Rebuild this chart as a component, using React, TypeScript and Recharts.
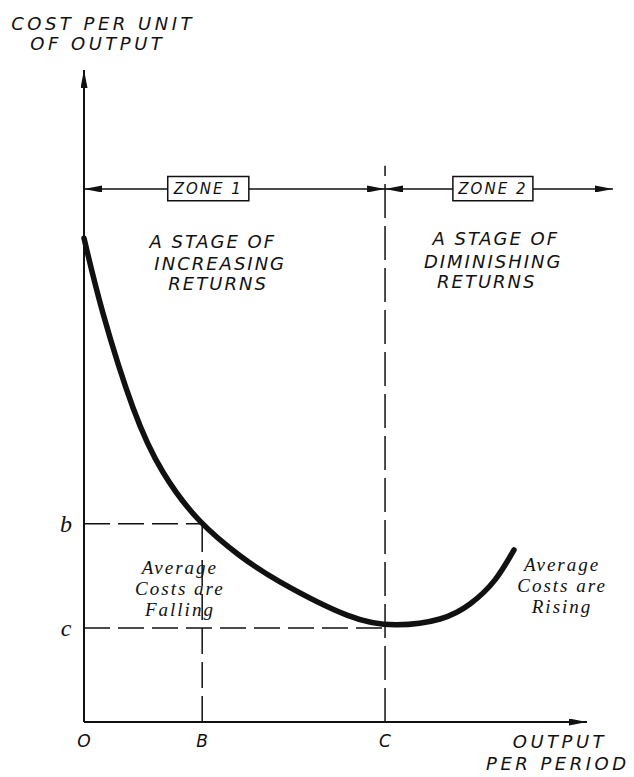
import { LineChart, Line, XAxis, YAxis, ReferenceLine, ReferenceArea, ReferenceDot } from "recharts";

// average cost curve (output 0..100, cost 0..100)
const output = [0, 3.58, 9.25, 14.91, 21.89, 29.43, 36.98, 49.62, 59.06, 67.17, 72.83, 77.55, 81.13];
const averageCost = [74.2, 62.7, 48.2, 38.3, 30.8, 25.5, 21.5, 16.4, 14.9, 15.8, 18.1, 21.8, 26.4];

const costTicks = ["b", "c"];
const costValues = [30.4, 14.4];
const outputTicks = ["O", "B", "C"];
const outputValues = [0, 22.3, 56.8];

const zoneNames = ["ZONE 1", "ZONE 2"];
const zoneEdges = [0, 56.8, 99.8];

const data = output.map((x, i) => ({ x, cost: averageCost[i] }));

const INK = "#111";
const LETTER = "'DejaVu Sans', sans-serif";
const SCRIPT = "'Liberation Serif', serif";

// annotation layout, in chart units
const zoneY = 81.75;
const zoneBoxes = [
  { x1: 15.8, x2: 31.1 },
  { x1: 69.6, x2: 84.7 },
];
const notes = [
  { text: "COST PER UNIT", x: 3.6, y: 106.1, kind: "title" },
  { text: "OF OUTPUT", x: 2.6, y: 103.1, kind: "title" },
  { text: "A STAGE OF", x: 24.3, y: 72.7, kind: "stage" },
  { text: "INCREASING", x: 25.7, y: 69.3, kind: "stage" },
  { text: "RETURNS", x: 25.3, y: 66.2, kind: "stage" },
  { text: "A STAGE OF", x: 77.7, y: 73.1, kind: "stage" },
  { text: "DIMINISHING", x: 77.2, y: 69.7, kind: "stage" },
  { text: "RETURNS", x: 76.0, y: 66.6, kind: "stage" },
  { text: "Average", x: 18.1, y: 22.7, kind: "script" },
  { text: "Costs are", x: 18.1, y: 19.5, kind: "script" },
  { text: "Falling", x: 18.1, y: 16.3, kind: "script" },
  { text: "Average", x: 90.2, y: 23.2, kind: "script" },
  { text: "Costs are", x: 90.2, y: 19.9, kind: "script" },
  { text: "Rising", x: 90.2, y: 16.7, kind: "script" },
  { text: "OUTPUT", x: 89.8, y: -4.0, kind: "title" },
  { text: "PER PERIOD", x: 89.4, y: -7.4, kind: "title" },
];

const styles: Record<string, any> = {
  title: { fontFamily: LETTER, fontStyle: "italic", fontSize: 18, letterSpacing: 3.5 },
  stage: { fontFamily: LETTER, fontStyle: "italic", fontSize: 18, letterSpacing: 2 },
  script: { fontFamily: SCRIPT, fontStyle: "italic", fontSize: 19, letterSpacing: 2 },
  zone: { fontFamily: LETTER, fontStyle: "italic", fontSize: 15, letterSpacing: 2 },
  tick: { fontFamily: LETTER, fontStyle: "italic", fontSize: 17 },
  level: { fontFamily: SCRIPT, fontStyle: "italic", fontSize: 24 },
};

const textShape = (text: string, kind: string, baseline = "auto") => (p: any) => (
  <text x={p.cx} y={p.cy} textAnchor="middle" dominantBaseline={baseline} fill={INK} style={styles[kind]}>
    {text}
  </text>
);

const dash = "26 8";

export default function App() {
  return (
    <div style={{ position: "absolute", left: 0, top: 0, background: "#fff" }}>
      <LineChart width={634} height={777} data={data} margin={{ top: 70, right: 20, bottom: 55, left: 84 }}>
        <defs>
          <marker id="arrow" markerUnits="userSpaceOnUse" markerWidth={18} markerHeight={7} refX={18} refY={3.5} orient="auto-start-reverse">
            <path d="M0,0 L18,3.5 L0,7 z" fill={INK} />
          </marker>
        </defs>
        <XAxis type="number" dataKey="x" domain={[0, 100]} hide />
        <YAxis type="number" domain={[0, 100]} hide />

        {/* axes */}
        <ReferenceLine segment={[{ x: 0, y: 0 }, { x: 0, y: 100 }]} stroke={INK} strokeWidth={2} markerEnd="url(#arrow)" ifOverflow="visible" />
        <ReferenceLine segment={[{ x: 0, y: 0 }, { x: 94.9, y: 0 }]} stroke={INK} strokeWidth={2} markerEnd="url(#arrow)" ifOverflow="visible" />

        {/* dashed guides */}
        <ReferenceLine segment={[{ x: 0, y: costValues[0] }, { x: outputValues[1], y: costValues[0] }]} stroke={INK} strokeWidth={1.5} strokeDasharray={dash} ifOverflow="visible" />
        <ReferenceLine segment={[{ x: outputValues[1], y: 0 }, { x: outputValues[1], y: costValues[0] }]} stroke={INK} strokeWidth={1.5} strokeDasharray={dash} ifOverflow="visible" />
        <ReferenceLine segment={[{ x: 0, y: costValues[1] }, { x: outputValues[2], y: costValues[1] }]} stroke={INK} strokeWidth={1.5} strokeDasharray={dash} ifOverflow="visible" />
        <ReferenceLine segment={[{ x: outputValues[2], y: 0 }, { x: outputValues[2], y: 85.3 }]} stroke={INK} strokeWidth={1.5} strokeDasharray="34 8" ifOverflow="visible" />

        {/* zone arrows */}
        {zoneBoxes.map((b, i) => (
          <ReferenceLine key={`zl${i}`} segment={[{ x: b.x1, y: zoneY }, { x: zoneEdges[i], y: zoneY }]} stroke={INK} strokeWidth={1.5} markerEnd="url(#arrow)" ifOverflow="visible" />
        ))}
        {zoneBoxes.map((b, i) => (
          <ReferenceLine key={`zr${i}`} segment={[{ x: b.x2, y: zoneY }, { x: zoneEdges[i + 1], y: zoneY }]} stroke={INK} strokeWidth={1.5} markerEnd="url(#arrow)" ifOverflow="visible" />
        ))}
        {zoneBoxes.map((b, i) => (
          <ReferenceArea key={`zb${i}`} x1={b.x1} x2={b.x2} y1={zoneY - 1.8} y2={zoneY + 1.9} fill="#fff" fillOpacity={1} stroke={INK} strokeWidth={1.5} ifOverflow="visible" />
        ))}
        {zoneBoxes.map((b, i) => (
          <ReferenceDot key={`zt${i}`} x={(b.x1 + b.x2) / 2} y={zoneY} r={0} ifOverflow="visible" shape={textShape(zoneNames[i], "zone", "central")} />
        ))}

        <Line type="natural" dataKey="cost" stroke={INK} strokeWidth={5.5} dot={false} activeDot={false} isAnimationActive={false} strokeLinecap="round" />

        {costTicks.map((t, i) => (
          <ReferenceDot key={`ct${i}`} x={-3.4} y={costValues[i]} r={0} ifOverflow="visible" shape={textShape(t, "level", "central")} />
        ))}
        {outputTicks.map((t, i) => (
          <ReferenceDot key={`ot${i}`} x={outputValues[i]} y={-3.8} r={0} ifOverflow="visible" shape={textShape(t, "tick")} />
        ))}
        {notes.map((n, i) => (
          <ReferenceDot key={`n${i}`} x={n.x} y={n.y} r={0} ifOverflow="visible" shape={textShape(n.text, n.kind)} />
        ))}
      </LineChart>
    </div>
  );
}
